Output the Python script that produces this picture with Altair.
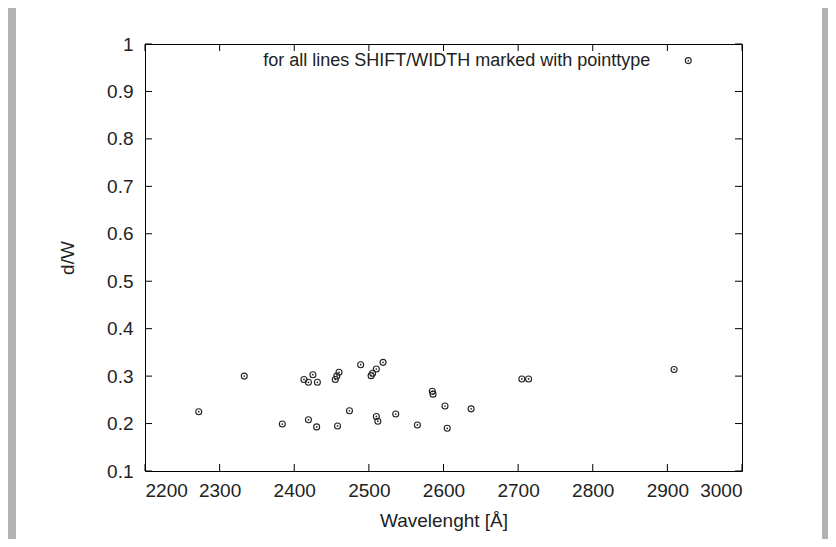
import altair as alt
import pandas as pd

# ---- data ----
wavelength = [2272, 2333, 2384, 2413, 2419, 2425, 2431, 2419, 2430, 2455, 2457, 2460,
              2458, 2474, 2489, 2503, 2505, 2510, 2519, 2510, 2512, 2536, 2565, 2585,
              2586, 2602, 2605, 2637, 2705, 2714, 2909]
dw = [0.225, 0.300, 0.199, 0.293, 0.287, 0.303, 0.287, 0.208, 0.193, 0.293, 0.300, 0.308,
      0.195, 0.227, 0.324, 0.301, 0.306, 0.315, 0.329, 0.215, 0.205, 0.220, 0.197, 0.268,
      0.262, 0.237, 0.190, 0.231, 0.294, 0.294, 0.314]
x_ticks = [2200, 2300, 2400, 2500, 2600, 2700, 2800, 2900, 3000]
y_ticks = [0.1, 0.2, 0.3, 0.4, 0.5, 0.6, 0.7, 0.8, 0.9, 1.0]
key_x = [2928]
key_y = [0.965]
key_label = ["for all lines SHIFT/WIDTH marked with pointtype"]

W, H = 597, 427
TL = 7
FONT = "Liberation Sans"
FS = 19
INK = "#222222"
GRAY = "#b2b2b2"

xs = alt.Scale(domain=[2200, 3000], nice=False, zero=False)
ys = alt.Scale(domain=[0.1, 1.0], nice=False, zero=False)

x_axis = alt.Axis(values=x_ticks, ticks=False, domain=False, grid=False, format="d",
                  labelFont=FONT, labelFontSize=FS, labelColor=INK, labelPadding=10,
                  title="Wavelenght [Å]", titleFont=FONT, titleFontSize=FS,
                  titleFontWeight="normal", titleColor=INK, titleY=49,
                  titleBaseline="middle", zindex=1)
y_axis = alt.Axis(values=y_ticks, ticks=False, domain=False, grid=False, format=".1~f",
                  labelFont=FONT, labelFontSize=FS, labelColor=INK, labelPadding=12,
                  labelBaseline="middle",
                  title="d/W", titleFont=FONT, titleFontSize=FS, titleFontWeight="normal",
                  titleColor=INK, titleX=-78, titleY=H / 2, titleAlign="center",
                  titleBaseline="middle", zindex=1)

pts = pd.DataFrame({"w": wavelength, "d": dw})
key = pd.DataFrame({"w": key_x, "d": key_y, "label": key_label})
xt = pd.DataFrame({"w": x_ticks})
yt = pd.DataFrame({"d": y_ticks})
one = pd.DataFrame({"a": [0]})

X = alt.X("w:Q", scale=xs, axis=x_axis)
Y = alt.Y("d:Q", scale=ys, axis=y_axis)

# page border strips (gray frame around the white sheet)
left_strip = alt.Chart(one).mark_rect(color=GRAY).encode(
    x=alt.value(-137), x2=alt.value(-129), y=alt.value(-36), y2=alt.value(H + 68))
right_strip = alt.Chart(one).mark_rect(color=GRAY).encode(
    x=alt.value(677), x2=alt.value(W + 86), y=alt.value(-36), y2=alt.value(H + 68))

# inward ticks on all four sides
xb = alt.Chart(xt).mark_rule(color="black", strokeWidth=1).encode(
    x=X, y=alt.value(H), y2=alt.value(H - TL))
xtp = alt.Chart(xt).mark_rule(color="black", strokeWidth=1).encode(
    x=X, y=alt.value(0), y2=alt.value(TL))
yl = alt.Chart(yt).mark_rule(color="black", strokeWidth=1).encode(
    y=Y, x=alt.value(0), x2=alt.value(TL))
yr = alt.Chart(yt).mark_rule(color="black", strokeWidth=1).encode(
    y=Y, x=alt.value(W - TL), x2=alt.value(W))

rings = alt.Chart(pts).mark_point(shape="circle", filled=False, size=36,
                                  stroke=INK, strokeWidth=1.1, opacity=1).encode(x=X, y=Y)
dots = alt.Chart(pts).mark_circle(size=3, color=INK, opacity=1).encode(x=X, y=Y)

key_ring = alt.Chart(key).mark_point(shape="circle", filled=False, size=36,
                                     stroke=INK, strokeWidth=1.1, opacity=1).encode(x=X, y=Y)
key_dot = alt.Chart(key).mark_circle(size=3, color=INK, opacity=1).encode(x=X, y=Y)
key_text = alt.Chart(key).mark_text(align="right", baseline="middle", dx=-38,
                                    font=FONT, fontSize=18, color=INK).encode(
    x=X, y=Y, text="label:N")

chart = alt.layer(
    left_strip, right_strip, xb, xtp, yl, yr, rings, dots, key_ring, key_dot, key_text
).properties(
    width=W, height=H,
    autosize=alt.AutoSizeParams(type="none"),
    padding={"left": 137, "top": 36, "right": 86, "bottom": 68},
    background="white",
).configure_view(stroke="black", strokeWidth=1)

chart.save("out.html", embed_options={"renderer": "svg", "actions": False})
